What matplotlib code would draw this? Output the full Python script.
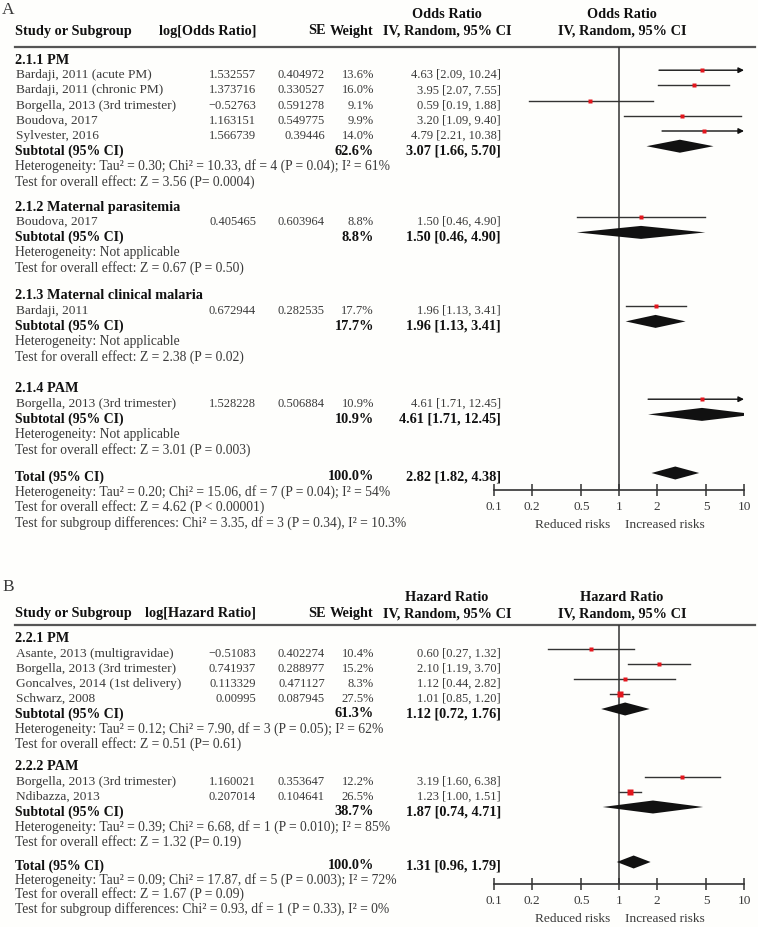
import matplotlib
matplotlib.use("Agg")
import matplotlib.pyplot as plt
from matplotlib.ticker import NullLocator

plt.rcParams['font.family'] = ['Liberation Serif', 'DejaVu Serif']

# ---- Panel A: odds ratios ----
groups_a = ["2.1.1 PM", "2.1.2 Maternal parasitemia", "2.1.3 Maternal clinical malaria", "2.1.4 PAM"]
studies_a = [["Bardaji, 2011 (acute PM)", "Bardaji, 2011 (chronic PM)", "Borgella, 2013 (3rd trimester)",
              "Boudova, 2017", "Sylvester, 2016"],
             ["Boudova, 2017"], ["Bardaji, 2011"], ["Borgella, 2013 (3rd trimester)"]]
log_a = [[1.532557, 1.373716, -0.52763, 1.163151, 1.566739], [0.405465], [0.672944], [1.528228]]
se_a = [[0.404972, 0.330527, 0.591278, 0.549775, 0.39446], [0.603964], [0.282535], [0.506884]]
w_a = [[13.6, 16.0, 9.1, 9.9, 14.0], [8.8], [17.7], [10.9]]
est_a = [[4.63, 3.95, 0.59, 3.20, 4.79], [1.50], [1.96], [4.61]]
lo_a = [[2.09, 2.07, 0.19, 1.09, 2.21], [0.46], [1.13], [1.71]]
hi_a = [[10.24, 7.55, 1.88, 9.40, 10.38], [4.90], [3.41], [12.45]]
sub_est_a = [3.07, 1.50, 1.96, 4.61]
sub_lo_a = [1.66, 0.46, 1.13, 1.71]
sub_hi_a = [5.70, 4.90, 3.41, 12.45]
sub_w_a = [62.6, 8.8, 17.7, 10.9]
het_a = ["Heterogeneity: Tau\u00b2 = 0.30; Chi\u00b2 = 10.33, df = 4 (P = 0.04); I\u00b2 = 61%",
         "Heterogeneity: Not applicable", "Heterogeneity: Not applicable", "Heterogeneity: Not applicable"]
test_a = ["Test for overall effect: Z = 3.56 (P= 0.0004)", "Test for overall effect: Z = 0.67 (P = 0.50)",
          "Test for overall effect: Z = 2.38 (P = 0.02)", "Test for overall effect: Z = 3.01 (P = 0.003)"]
total_a = (2.82, 1.82, 4.38)
total_lines_a = ["Heterogeneity: Tau\u00b2 = 0.20; Chi\u00b2 = 15.06, df = 7 (P = 0.04); I\u00b2 = 54%",
                 "Test for overall effect: Z = 4.62 (P < 0.00001)",
                 "Test for subgroup differences: Chi\u00b2 = 3.35, df = 3 (P = 0.34), I\u00b2 = 10.3%"]

# ---- Panel B: hazard ratios ----
groups_b = ["2.2.1 PM", "2.2.2 PAM"]
studies_b = [["Asante, 2013 (multigravidae)", "Borgella, 2013 (3rd trimester)",
              "Goncalves, 2014 (1st delivery)", "Schwarz, 2008"],
             ["Borgella, 2013 (3rd trimester)", "Ndibazza, 2013"]]
log_b = [[-0.51083, 0.741937, 0.113329, 0.00995], [1.160021, 0.207014]]
se_b = [[0.402274, 0.288977, 0.471127, 0.087945], [0.353647, 0.104641]]
w_b = [[10.4, 15.2, 8.3, 27.5], [12.2, 26.5]]
est_b = [[0.60, 2.10, 1.12, 1.01], [3.19, 1.23]]
lo_b = [[0.27, 1.19, 0.44, 0.85], [1.60, 1.00]]
hi_b = [[1.32, 3.70, 2.82, 1.20], [6.38, 1.51]]
sub_est_b = [1.12, 1.87]
sub_lo_b = [0.72, 0.74]
sub_hi_b = [1.76, 4.71]
sub_w_b = [61.3, 38.7]
het_b = ["Heterogeneity: Tau\u00b2 = 0.12; Chi\u00b2 = 7.90, df = 3 (P = 0.05); I\u00b2 = 62%",
         "Heterogeneity: Tau\u00b2 = 0.39; Chi\u00b2 = 6.68, df = 1 (P = 0.010); I\u00b2 = 85%"]
test_b = ["Test for overall effect: Z = 0.51 (P= 0.61)", "Test for overall effect: Z = 1.32 (P= 0.19)"]
total_b = (1.31, 0.96, 1.79)
total_lines_b = ["Heterogeneity: Tau\u00b2 = 0.09; Chi\u00b2 = 17.87, df = 5 (P = 0.003); I\u00b2 = 72%",
                 "Test for overall effect: Z = 1.67 (P = 0.09)",
                 "Test for subgroup differences: Chi\u00b2 = 0.93, df = 1 (P = 0.33), I\u00b2 = 0%"]

ticks = [0.1, 0.2, 0.5, 1, 2, 5, 10]
tick_labels = ["0.1", "0.2", "0.5", "1", "2", "5", "10"]

W, H = 758, 928
FS = 9.6    # names
FN = 9.0    # numbers
FH = 9.8    # heterogeneity / test lines
FB = 10.3   # bold headers / bold numbers
FL = 9.9    # Subtotal / Total labels
TXT = "#3a3a3a"
BLK = "#111111"
RED = "#e3161d"
LINE = "#333333"

fig = plt.figure(figsize=(W / 100, H / 100), dpi=100, facecolor="#fefefc")
bg = fig.add_axes([0, 0, 1, 1], zorder=0)
bg.set_xlim(0, W)
bg.set_ylim(H, 0)
bg.axis("off")


def fmt(v):
    return str(v).replace("-", "\u2212")


def ci(e, l, h):
    return f"{e:.2f} [{l:.2f}, {h:.2f}]"


def txt(x, y, s, size, bold=False, ha="left"):
    bg.text(x, y, s, fontsize=size, weight="bold" if bold else "normal",
            color=BLK if bold else TXT, va="center", ha=ha)


def forest_axes(top, bottom):
    ax = fig.add_axes([494 / W, 1 - bottom / H, 250 / W, (bottom - top) / H], zorder=2)
    ax.patch.set_alpha(0)
    ax.set_xscale("log")
    ax.set_xlim(0.1, 10)
    ax.set_ylim(bottom, top)
    for s in ["top", "left", "right"]:
        ax.spines[s].set_visible(False)
    ax.spines["bottom"].set_color(LINE)
    ax.spines["bottom"].set_linewidth(1.2)
    ax.set_yticks([])
    ax.set_xticks(ticks)
    ax.set_xticklabels(tick_labels)
    ax.xaxis.set_minor_locator(NullLocator())
    ax.tick_params(axis="x", direction="inout", length=8, width=1.1, color=LINE,
                   labelsize=FS, labelcolor=TXT, pad=3)
    ax.axvline(1, color=LINE, lw=1.1, zorder=1)
    return ax


def study_mark(ax, y, e, l, h, w):
    if h > 10:
        ax.annotate("", xy=(10, y), xytext=(l, y),
                    arrowprops=dict(arrowstyle="-|>", color=BLK, lw=1.0, mutation_scale=8,
                                    shrinkA=0, shrinkB=0))
    else:
        ax.plot([l, h], [y, y], color=LINE, lw=1.0, zorder=2)
    ax.plot(e, y, "s", ms=0.85 * w ** 0.5, color=RED, mec="none", zorder=3)


def diamond(ax, y, e, l, h, hh=6.5):
    ax.fill([l, e, h, e], [y, y - hh, y, y + hh], color=BLK, lw=0, zorder=3)


def panel(letter, top_letter, head_y, line_y, axis_y, measure, groups, studies, logs, ses, ws,
          ests, los, his, s_est, s_lo, s_hi, s_w, hets, tests, group_y, step, total, total_y,
          total_step, total_lines):
    txt(2, top_letter, letter, 12.5)
    txt(15, head_y + 16, "Study or Subgroup", FB, bold=True)
    txt(256, head_y + 16, f"log[{measure}]", FB, bold=True, ha="right")
    txt(326, head_y + 16, "SE", FB, bold=True, ha="right")
    txt(374, head_y + 16, "Weight", FB, bold=True, ha="right")
    for cx in (447, 622):
        txt(cx, head_y, measure, FB, bold=True, ha="center")
        txt(cx, head_y + 16, "IV, Random, 95% CI", FB, bold=True, ha="center")
    bg.plot([15, 755], [line_y, line_y], color="#555555", lw=1.6)

    ax = forest_axes(line_y, axis_y)
    off = 4
    for g in range(len(groups)):
        y = group_y[g]
        txt(15, y, groups[g], FB, bold=True)
        for i in range(len(studies[g])):
            y += step
            txt(16, y, studies[g][i], FS)
            txt(256, y, fmt(logs[g][i]), FN, ha="right")
            txt(325, y, fmt(ses[g][i]), FN, ha="right")
            txt(374, y, f"{ws[g][i]:.1f}%", FN, ha="right")
            txt(501, y, ci(ests[g][i], los[g][i], his[g][i]), FN, ha="right")
            study_mark(ax, y - off, ests[g][i], los[g][i], his[g][i], ws[g][i])
        y += step
        txt(15, y, "Subtotal (95% CI)", FL, bold=True)
        txt(374, y, f"{s_w[g]:.1f}%", FB, bold=True, ha="right")
        txt(501, y, ci(s_est[g], s_lo[g], s_hi[g]), FB, bold=True, ha="right")
        diamond(ax, y - off, s_est[g], s_lo[g], s_hi[g])
        txt(15, y + step, hets[g], FH)
        txt(15, y + 2 * step, tests[g], FH)

    y = total_y
    txt(15, y, "Total (95% CI)", FL, bold=True)
    txt(374, y, "100.0%", FB, bold=True, ha="right")
    txt(501, y, ci(*total), FB, bold=True, ha="right")
    diamond(ax, y - 3, *total)
    for k, t in enumerate(total_lines):
        txt(15, y + (k + 1) * total_step, t, FH)
    txt(610, axis_y + 34, "Reduced risks", FS, ha="right")
    txt(625, axis_y + 34, "Increased risks", FS)


panel("A", 10, 15, 48, 491, "Odds Ratio", groups_a, studies_a, log_a, se_a, w_a, est_a, lo_a, hi_a,
      sub_est_a, sub_lo_a, sub_hi_a, sub_w_a, het_a, test_a, [60, 207, 296, 389], 15.2,
      total_a, 477, 15.2, total_lines_a)
panel("B", 587, 598, 626, 885, "Hazard Ratio", groups_b, studies_b, log_b, se_b, w_b, est_b, lo_b, hi_b,
      sub_est_b, sub_lo_b, sub_hi_b, sub_w_b, het_b, test_b, [639, 767], 15.0,
      total_b, 866, 14.2, total_lines_b)

fig.savefig("out.png", dpi=100, facecolor=fig.get_facecolor())
